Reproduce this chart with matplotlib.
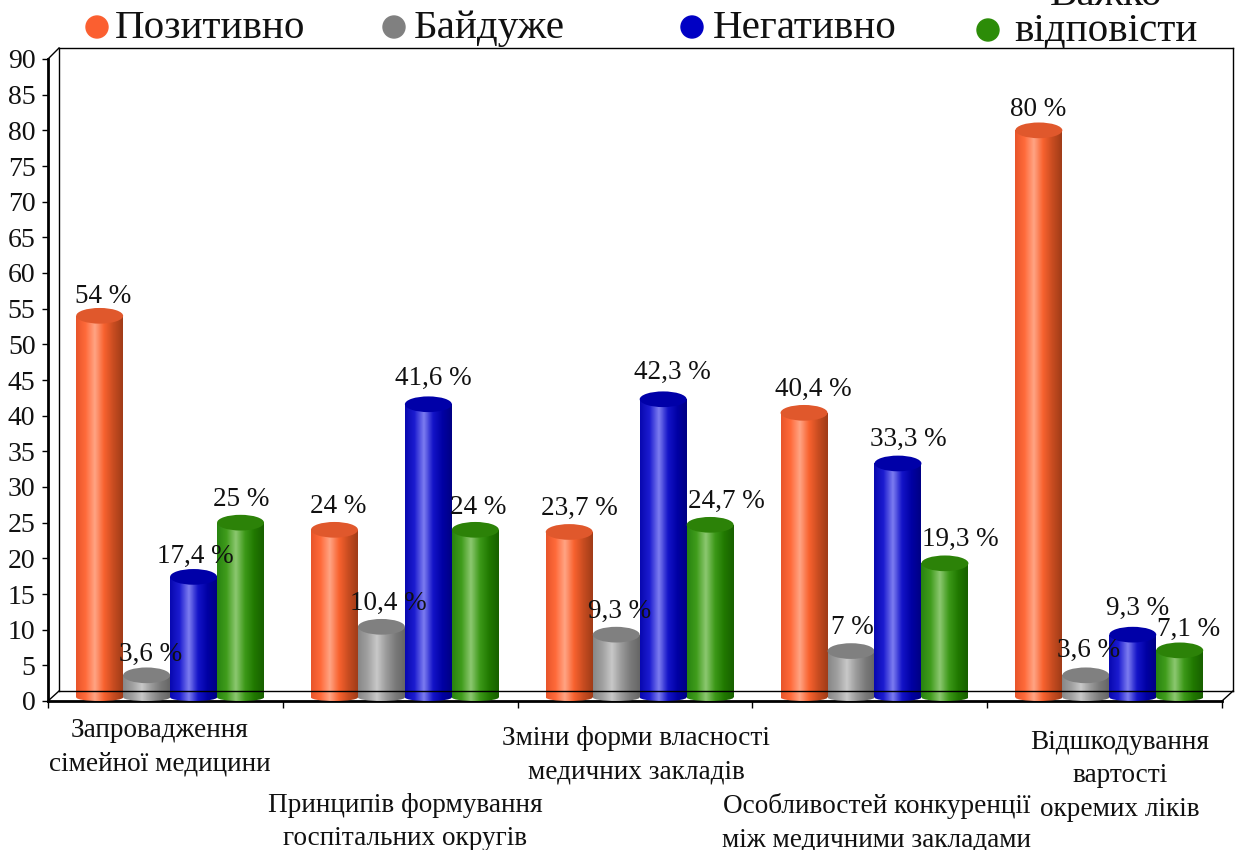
import numpy as np
import matplotlib
matplotlib.use('Agg')
import matplotlib.pyplot as plt
from matplotlib.colors import LinearSegmentedColormap
from matplotlib.lines import Line2D
from matplotlib.patches import Ellipse, Circle

#Data
series_names = ['Позитивно', 'Байдуже', 'Негативно', 'Важко\nвідповісти']
positive = [54, 24, 23.7, 40.4, 80]
neutral = [3.6, 10.4, 9.3, 7, 3.6]
negative = [17.4, 41.6, 42.3, 33.3, 9.3]
difficult = [25, 24, 24.7, 19.3, 7.1]
positive_labels = ['54 %', '24 %', '23,7 %', '40,4 %', '80 %']
neutral_labels = ['3,6 %', '10,4 %', '9,3 %', '7 %', '3,6 %']
negative_labels = ['17,4 %', '41,6 %', '42,3 %', '33,3 %', '9,3 %']
difficult_labels = ['25 %', '24 %', '24,7 %', '19,3 %', '7,1 %']
categories = ['Запровадження\nсімейної медицини',
              'Принципів формування\nгоспітальних округів',
              'Зміни форми власності\nмедичних закладів',
              'Особливостей конкуренції\nміж медичними закладами',
              'Відшкодування\nвартості\nокремих ліків']

#Layout in pixels of the 1238x850 picture
W, H = 1238, 850
x0, x1, y0, y90 = 48, 1222, 701, 59
depth_x, depth_y = 11, 10
cat_x = [160, 405, 636, 877, 1120]
cat_y = [747.5, 822, 755, 823, 776]
legend_marker_x = [97, 394, 692, 988]
legend_marker_y = [27, 27, 27, 30]
legend_text_x = [115, 414, 713, 1106]
label_shift = [[3, 4, 10, 9, -1], [4, 7, 3, 1, 3], [2, 5, 9, 10, 5], [1, 3, 16, 15, 9]]
label_rise = [[14, 17, 17, 17, 15], [15, 17, 17, 17, 18], [15, 18.5, 19, 17, 19], [17, 16, 17, 17, 15]]

#Shading across each cylinder, left edge to right edge
gradients = [['#e8552a', '#ff6a3a', '#ffa484', '#f8622f', '#c84c20', '#a03c18'],
             ['#888888', '#a0a0a0', '#c8c8c8', '#9c9c9c', '#7a7a7a', '#666666'],
             ['#0808b0', '#1c1cd0', '#7c7cf0', '#1414c8', '#0000a4', '#000084'],
             ['#288410', '#409c1c', '#8cc870', '#3c9818', '#207800', '#186000']]
top_colors = ['#e0582c', '#808080', '#0000a8', '#2c8208']
legend_colors = ['#fb5f30', '#808080', '#0000c4', '#2c8c08']

plt.rcParams['font.family'] = ['Liberation Serif', 'DejaVu Serif']

fig = plt.figure(figsize=(W/100, H/100), dpi=100)
ax = fig.add_axes([x0/W, 1-y0/H, (x1-x0)/W, (y0-y90)/H])
ax.patch.set_alpha(0)


def fx(px):
    return px/W


def fy(py):
    return 1-py/H


#Back wall and floor drawn as thin lines
wall = [([x0+depth_x, x1+depth_x], [y90-depth_y-1, y90-depth_y-1]),
        ([x0+depth_x, x0+depth_x], [y90-depth_y-1, y0-depth_y]),
        ([x1+depth_x, x1+depth_x], [y90-depth_y-1, y0-depth_y]),
        ([x0+depth_x, x1+depth_x], [y0-depth_y, y0-depth_y]),
        ([x0, x0+depth_x], [y0, y0-depth_y]),
        ([x1, x1+depth_x], [y0, y0-depth_y]),
        ([x0, x0+depth_x], [y90, y90-depth_y-1])]
for xs, ys in wall:
    fig.add_artist(Line2D([fx(v) for v in xs], [fy(v) for v in ys], color='black', lw=1))

ax.set_xlim(0, 5)
ax.set_ylim(0, 90)
ax.set_yticks(np.arange(0, 95, 5))
ax.set_xticks(np.arange(0, 6))
ax.set_xticklabels([])
ax.tick_params(axis='y', labelsize=20, length=4, width=1, pad=5, labelcolor='#111111')
ax.tick_params(axis='x', length=5, width=1)
for side in ['top', 'right']:
    ax.spines[side].set_visible(False)
for side in ['left', 'bottom']:
    ax.spines[side].set_linewidth(2)

values = [positive, neutral, negative, difficult]
labels = [positive_labels, neutral_labels, negative_labels, difficult_labels]
bar_w = 0.2
group_shift = 0.02
cap_h = 2.2
foot_h = 1.0
ramp = np.linspace(0, 1, 128).reshape(1, -1)

for s in range(4):
    cmap = LinearSegmentedColormap.from_list('cyl', gradients[s])
    for i in range(5):
        v = values[s][i]
        left = i+0.5+group_shift+(s-2)*bar_w
        mid = left+bar_w/2
        z = 3+s*0.1

        #Rounded foot of the cylinder
        foot = Ellipse((mid, foot_h/2), bar_w, foot_h, fc='none', ec='none', zorder=z)
        ax.add_patch(foot)
        im = ax.imshow(ramp, cmap=cmap, extent=(left, left+bar_w, 0, foot_h), aspect='auto', zorder=z)
        im.set_clip_path(foot)

        #Body with a horizontal shading
        body = ax.bar(mid, v-foot_h/2, bar_w, bottom=foot_h/2, color='none', zorder=z)[0]
        im = ax.imshow(ramp, cmap=cmap, extent=(left, left+bar_w, foot_h/2, v), aspect='auto', zorder=z)
        im.set_clip_path(body)

        #Flat top of the cylinder
        ax.add_patch(Ellipse((mid, v), bar_w, cap_h, fc=top_colors[s], ec='none', zorder=z+0.01))

        label_x = mid+label_shift[s][i]/(x1-x0)*5
        ax.annotate(labels[s][i], (label_x, v), xytext=(0, label_rise[s][i]), textcoords='offset points',
                    ha='center', va='center', fontsize=19.5, color='#111111', zorder=10,
                    annotation_clip=False)

ax.set_xlim(0, 5)
ax.set_ylim(0, 90)

#Category names sit at different heights under the axis
for i, name in enumerate(categories):
    fig.text(fx(cat_x[i]), fy(cat_y[i]), name, ha='center', va='center', fontsize=19.6,
             linespacing=1.44, color='#111111')

#Legend placed by hand, the last entry runs off the top edge
for i, name in enumerate(series_names):
    fig.add_artist(Circle((legend_marker_x[i], H-legend_marker_y[i]), 11,
                          color=legend_colors[i], transform=None))
    if i < 3:
        fig.text(fx(legend_text_x[i]), fy(38), name, ha='left', va='baseline',
                 fontsize=29.6, color='#111111')
    else:
        fig.text(fx(legend_text_x[i]), fy(41), name, ha='center', va='baseline',
                 fontsize=29.6, linespacing=0.95, color='#111111', multialignment='center')

plt.savefig('out.png', dpi=100)
